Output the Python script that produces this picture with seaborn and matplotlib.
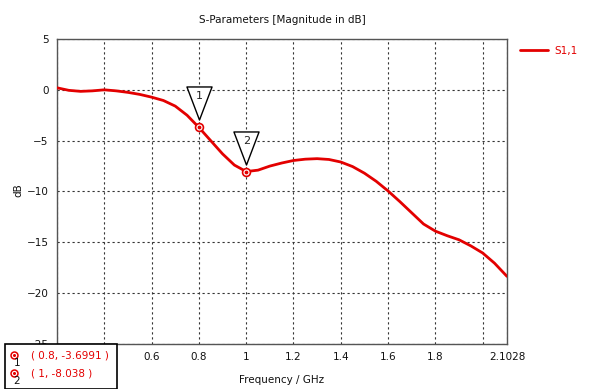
import numpy as np
import pandas as pd
import matplotlib
matplotlib.use("Agg")
import matplotlib.pyplot as plt
import matplotlib.transforms as mtransforms
from matplotlib.patches import Rectangle
from matplotlib.path import Path
import seaborn as sns

# --- data ---
freq_ghz = [0.2, 0.25, 0.3, 0.35, 0.4, 0.45, 0.5, 0.55, 0.6, 0.65, 0.7, 0.75,
            0.8, 0.85, 0.9, 0.95, 1.0, 1.05, 1.1, 1.15, 1.2, 1.25, 1.3, 1.35,
            1.4, 1.45, 1.5, 1.55, 1.6, 1.65, 1.7, 1.75, 1.8, 1.85, 1.9, 1.95,
            2.0, 2.05, 2.1028]
s11_db = [0.2, -0.05, -0.15, -0.1, 0.0, -0.1, -0.25, -0.45, -0.72, -1.05, -1.6, -2.5,
          -3.7, -5.0, -6.3, -7.4, -8.04, -7.9, -7.5, -7.2, -6.95, -6.82, -6.77, -6.85,
          -7.1, -7.55, -8.2, -9.0, -9.95, -11.0, -12.1, -13.2, -13.9, -14.35, -14.75, -15.35,
          -16.05, -17.05, -18.35]

marker_ids = ["1", "2"]
marker_x = [0.8, 1.0]
marker_y = [-3.6991, -8.038]
marker_text = ["( 0.8, -3.6991 )", "( 1, -8.038 )"]

x_ticks = [0.2, 0.4, 0.6, 0.8, 1.0, 1.2, 1.4, 1.6, 1.8, 2.0, 2.1028]
# 0.2 / 0.4 labels sit under the marker box in the reference
x_ticklabels = ["", "", "0.6", "0.8", "1", "1.2", "1.4", "1.6", "1.8", "", "2.1028"]
y_ticks = [5, 0, -5, -10, -15, -20, -25]

df = pd.DataFrame({"Frequency / GHz": freq_ghz, "S1,1": s11_db})

sns.set_style("white")
plt.rcParams['font.family'] = ['DejaVu Sans']
FS = 7.5
RED = "#e30000"

W, H = 604, 389
fig = plt.figure(figsize=(W / 100, H / 100), dpi=100)
ax = fig.add_axes([57 / W, 1 - 344 / H, 450 / W, 305 / H])

sns.lineplot(data=df, x="Frequency / GHz", y="S1,1", ax=ax, color=RED, lw=2.0,
             label="S1,1", legend=False, zorder=3)

ax.set_xlim(0.2, 2.1028)
ax.set_ylim(-25, 5)
ax.set_xticks(x_ticks)
ax.set_xticklabels(x_ticklabels)
ax.set_yticks(y_ticks)
ax.tick_params(length=0, labelsize=FS, colors="#111111", pad=6)
ax.grid(True, color="#333333", linestyle=(0, (2, 2.5)), linewidth=0.8)
for s in ax.spines.values():
    s.set_color("#555555")
    s.set_linewidth(1.0)
ax.set_xlabel("")
ax.set_ylabel("")

# markers on the curve
ax.scatter(marker_x, marker_y, s=32, facecolor="white", edgecolor=RED, linewidth=1.2, zorder=5)
ax.scatter(marker_x, marker_y, s=3, color=RED, zorder=6)

tri = Path([(-0.38, 0.5), (0.38, 0.5), (0.0, -0.5), (-0.38, 0.5)],
           [Path.MOVETO, Path.LINETO, Path.LINETO, Path.CLOSEPOLY])
for mid, mx, my in zip(marker_ids, marker_x, marker_y):
    off = mtransforms.offset_copy(ax.transData, fig=fig, x=0, y=24, units="dots")
    ax.scatter([mx], [my], marker=tri, s=33 ** 2 * 0.52, facecolor="white",
               edgecolor="black", linewidth=1.0, transform=off, zorder=7)
    off2 = mtransforms.offset_copy(ax.transData, fig=fig, x=0, y=31, units="dots")
    ax.text(mx, my, mid, transform=off2, ha="center", va="center", fontsize=FS + 0.5,
            color="#222222", zorder=8)

# titles / labels
fig.text(282 / W, 1 - 20 / H, "S-Parameters [Magnitude in dB]", ha="center", va="center",
         fontsize=FS, color="#111111")
fig.text(282 / W, 1 - 380 / H, "Frequency / GHz", ha="center", va="center",
         fontsize=FS, color="#111111")
fig.text(18 / W, 1 - 190 / H, "dB", ha="center", va="center", rotation=90,
         fontsize=FS, color="#111111")

# legend
fig.legend(handles=ax.get_lines()[:1], labels=["S1,1"], loc="center left",
           bbox_to_anchor=(516 / W, 1 - 51 / H), frameon=False, fontsize=FS,
           handlelength=2.7, labelcolor=RED, borderaxespad=0, handletextpad=0.6)

# marker readout box
fig.patches.append(Rectangle((5 / W, 0), 112 / W, 45 / H, transform=fig.transFigure,
                             facecolor="white", edgecolor="black", linewidth=1.2, zorder=10))
for i, (mid, txt) in enumerate(zip(marker_ids, marker_text)):
    yc = 355 + 18 * i
    fig.add_artist(plt.Line2D([14 / W], [1 - yc / H], marker="o", markersize=5,
                              markerfacecolor="white", markeredgecolor=RED, markeredgewidth=1.1,
                              transform=fig.transFigure, zorder=11))
    fig.add_artist(plt.Line2D([14 / W], [1 - yc / H], marker="o", markersize=1.2,
                              color=RED, transform=fig.transFigure, zorder=12))
    fig.text(17 / W, 1 - (yc + 8) / H, mid, ha="center", va="center", fontsize=FS,
             color="#111111", zorder=12)
    fig.text(31 / W, 1 - (yc + 1) / H, txt, ha="left", va="center", fontsize=FS,
             color=RED, zorder=12)

fig.savefig("out.png", dpi=100)
